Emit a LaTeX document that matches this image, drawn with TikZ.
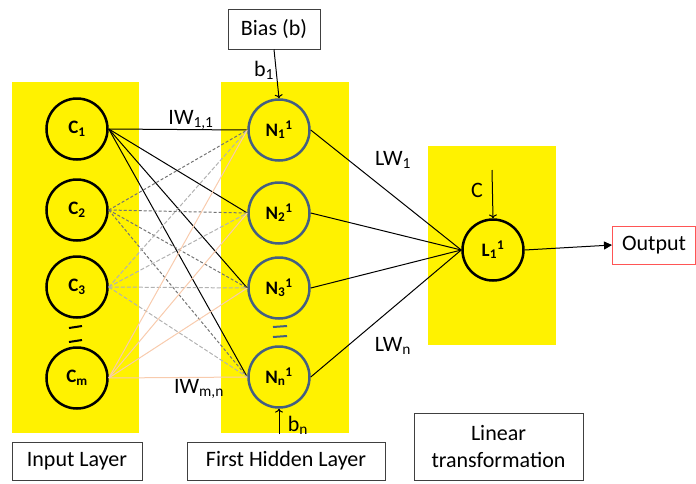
\documentclass[tikz,border=0pt]{standalone}
\usepackage{fontspec}
\setmainfont{Carlito}
\usetikzlibrary{arrows.meta}
\definecolor{nblue}{RGB}{68,95,130}
\definecolor{peach}{RGB}{248,203,173}
\definecolor{outred}{RGB}{255,85,85}

\begin{document}
\begin{tikzpicture}[x=1pt,y=-1pt,line width=1pt]
		\tikzstyle{cnode}=[draw,shape=circle,line width=2.5pt,minimum size=61pt,inner sep=0pt,font=\fontsize{19}{22}\selectfont\bfseries]
		\tikzstyle{hnode}=[cnode,draw=nblue]
		\tikzstyle{box}=[draw=black!75,line width=1pt,inner sep=0pt,align=center,font=\fontsize{22}{27}\selectfont]
		\tikzstyle{lbl}=[inner sep=0pt,font=\fontsize{22}{26}\selectfont]
		\tikzstyle{iwone}=[black]
		\tikzstyle{iwtwo}=[black!55,dash pattern=on 3pt off 2pt]
		\tikzstyle{iwthree}=[black!30,dash pattern=on 4pt off 2pt]
		\tikzstyle{iwm}=[peach]

		\useasboundingbox (0,0) rectangle (696,483);
		\fill[yellow] (12,82) rectangle (139,433);
		\fill[yellow] (221,82) rectangle (349,433);
		\fill[yellow] (428,146) rectangle (556,345);

		\node[cnode](c1) at (77,129){C\textsubscript{1}};
		\node[cnode](c2) at (77,210){C\textsubscript{2}};
		\node[cnode](c3) at (77,287){C\textsubscript{3}};
		\node[cnode](cm) at (77,378){C\textsubscript{m}};
		\draw[line width=2pt] (69,328) -- (82,326);
		\draw[line width=2pt] (69,342) -- (82,340);

		\node[hnode](n1) at (279,130){N\textsubscript{1}\textsuperscript{1}};
		\node[hnode](n2) at (279,213){N\textsubscript{2}\textsuperscript{1}};
		\node[hnode](n3) at (279,288){N\textsubscript{3}\textsuperscript{1}};
		\node[hnode](nn) at (279,377){N\textsubscript{n}\textsuperscript{1}};
		\draw[nblue,line width=2pt] (273,327) -- (287,326);
		\draw[nblue,line width=2pt] (273,337) -- (287,336);

		\node[cnode](l1) at (493,250){L\textsubscript{1}\textsuperscript{1}};

		\node[box,minimum width=92pt,minimum height=40pt](bias) at (274,29){Bias (b)};
		\node[box,draw=outred,minimum width=83pt,minimum height=38pt](out) at (654,245){Output};
		\node[box,minimum width=130pt,minimum height=38pt](inl) at (77,461){Input Layer};
		\node[box,minimum width=198pt,minimum height=38pt](hidl) at (286,461){First Hidden Layer};
		\node[box,minimum width=169pt,minimum height=67pt](linl) at (498.5,446.5){Linear\\transformation};

		\coordinate (bn) at (279,434);
		\coordinate (cin) at (492,170);

		% input -> hidden
		\draw[iwone] (c1.east) -- (n1.west);
		\draw[iwone] (c1.east) -- (n2.west);
		\draw[iwone] (c1.east) -- (n3.west);
		\draw[iwone] (c1.east) -- (nn.west);

		\draw[iwtwo] (c2.east) -- (n1.west);
		\draw[iwtwo] (c2.east) -- (n2.west);
		\draw[iwtwo] (c2.east) -- (n3.west);
		\draw[iwtwo] (c2.east) -- (nn.west);

		\draw[iwthree] (c3.east) -- (n1.west);
		\draw[iwthree] (c3.east) -- (n2.west);
		\draw[iwthree] (c3.east) -- (n3.west);
		\draw[iwthree] (c3.east) -- (nn.west);

		\draw[iwm] (cm.east) -- (n1.west);
		\draw[iwm] (cm.east) -- (n2.west);
		\draw[iwm] (cm.east) -- (n3.west);
		\draw[iwm] (cm.east) -- (nn.west);

		% hidden -> linear
		\draw (n1.east) -- (l1.west);
		\draw (n2.east) -- (l1.west);
		\draw (n3.east) -- (l1.west);
		\draw (nn.east) -- (l1.west);

		\draw[->] (bias.south) -- (n1.north);
		\draw[->] (bn) -- (nn.south);
		\draw[->] (cin) -- (l1.north);
		\draw[-{Triangle[length=8pt,width=8pt]}] (l1.east) -- (out.west);

		\node[lbl](lb1) at (264,70){b\textsubscript{1}};
		\node[lbl](lbn) at (298,425){b\textsubscript{n}};
		\node[lbl](lc) at (477,190){C};
		\node[lbl](liw1) at (191,120){IW\textsubscript{1,1}};
		\node[lbl](liwm) at (199,389){IW\textsubscript{m,n}};
		\node[lbl](llw1) at (393,160){LW\textsubscript{1}};
		\node[lbl](llwn) at (393,346){LW\textsubscript{n}};
	\end{tikzpicture}
\end{document}
